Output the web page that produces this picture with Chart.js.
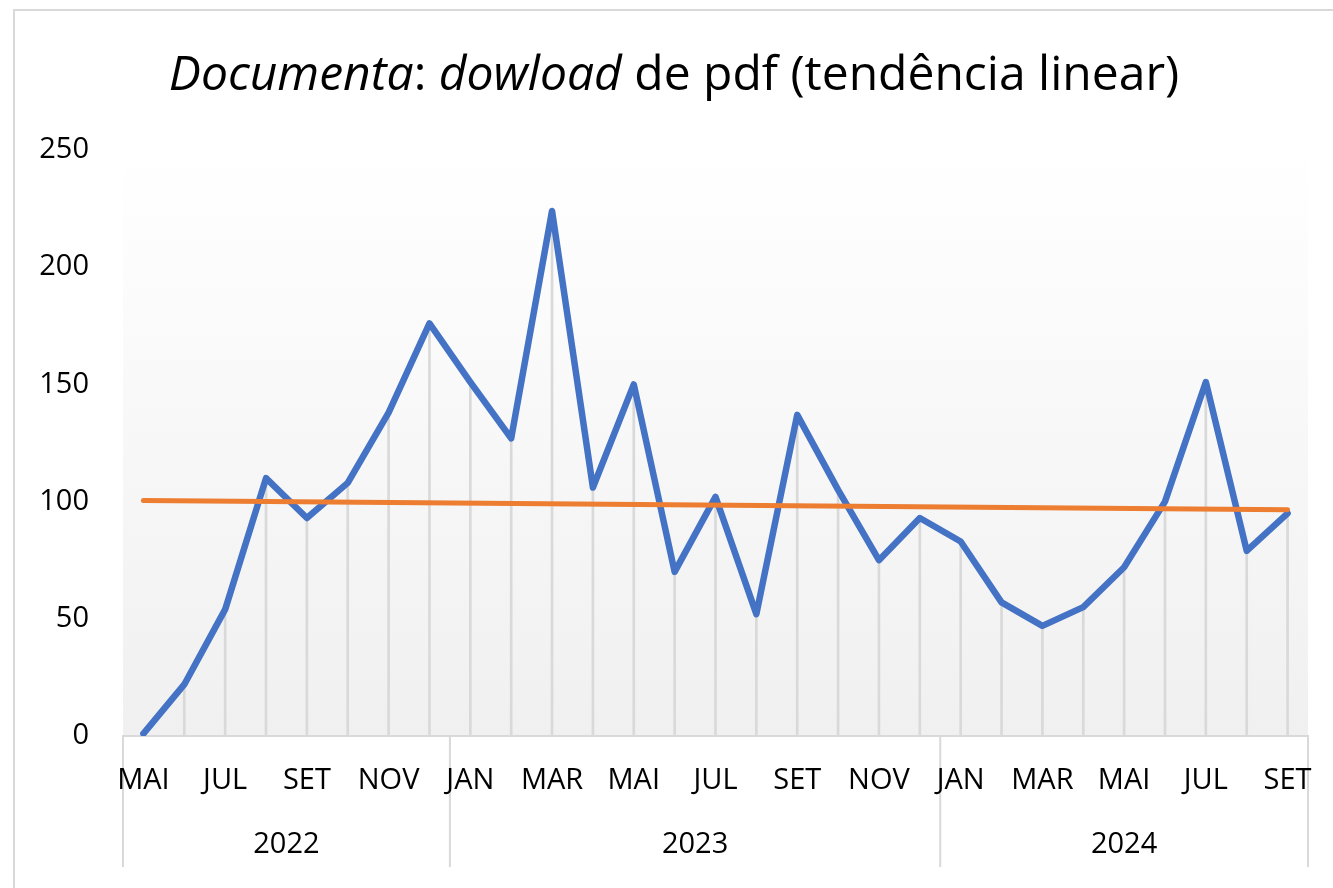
<!DOCTYPE html>
<html>
<head>
<meta charset="utf-8">
<script src="https://cdn.jsdelivr.net/npm/chart.js@4"></script>
<style>
  html, body { margin: 0; padding: 0; background: #fff; }
  #wrap { width: 1333px; height: 888px; position: relative; }
</style>
</head>
<body>
<div id="wrap"><canvas id="chart" width="1333" height="888"></canvas></div>
<script>
// categories (May 2022 .. Sep 2024)
const months = ["MAI", "JUN", "JUL", "AGO", "SET", "OUT", "NOV", "DEZ",
    "JAN", "FEV", "MAR", "ABR", "MAI", "JUN", "JUL", "AGO", "SET", "OUT", "NOV", "DEZ",
    "JAN", "FEV", "MAR", "ABR", "MAI", "JUN", "JUL", "AGO", "SET"];
const years = ["2022", "2023", "2024"];
const yearStart = [0, 8, 20];
const yearEnd = [7, 19, 28];

// downloads per month
const downloads = [1, 22, 54, 110, 93, 108, 138, 176,
    151, 127, 224, 106, 150, 70, 102, 52, 137, 105, 75, 93,
    83, 57, 47, 55, 72, 100, 151, 79, 95];

// linear trend, ends
const trendStart = 100.5;
const trendEnd = 96.5;
const trend = months.map((m, i) => i === 0 ? trendStart : (i === months.length - 1 ? trendEnd : null));

const yTicks = [0, 50, 100, 150, 200, 250];

const FONT = "'Open Sans', sans-serif";

const frameAndTitle = {
    id: "frameAndTitle",
    beforeDraw(chart) {
        const ctx = chart.ctx;
        const area = chart.chartArea;
        ctx.save();
        ctx.fillStyle = "#fff";
        ctx.fillRect(0, 0, chart.width, chart.height);
        ctx.strokeStyle = "#d9d9d9";
        ctx.lineWidth = 2;
        ctx.strokeRect(14, 10, chart.width + 20, chart.height + 20);
        // plot area gradient
        const g = ctx.createLinearGradient(0, area.top, 0, area.bottom);
        g.addColorStop(0, "#ffffff");
        g.addColorStop(1, "#f0f0f0");
        ctx.fillStyle = g;
        ctx.fillRect(area.left, area.top, area.right - area.left, area.bottom - area.top);

        // year row separators of the category axis (behind the labels)
        const xs = chart.scales.x;
        const half = (xs.getPixelForValue(1) - xs.getPixelForValue(0)) / 2;
        ctx.beginPath();
        years.forEach((y, i) => {
            const l = xs.getPixelForValue(yearStart[i]) - half;
            const r = xs.getPixelForValue(yearEnd[i]) + half;
            ctx.moveTo(l, area.bottom);
            ctx.lineTo(l, 867);
            ctx.moveTo(r, area.bottom);
            ctx.lineTo(r, 867);
        });
        ctx.stroke();
        ctx.restore();
    },
    afterDraw(chart) {
        const ctx = chart.ctx;
        const parts = [
            { t: "Documenta", it: true },
            { t: ": ", it: false },
            { t: "dowload", it: true },
            { t: " de pdf (tendência linear)", it: false }
        ];
        ctx.save();
        ctx.fillStyle = "#000";
        ctx.textBaseline = "alphabetic";
        let total = 0;
        parts.forEach(p => {
            ctx.font = (p.it ? "italic " : "") + "48px " + FONT;
            p.w = ctx.measureText(p.t).width;
            total += p.w;
        });
        let x = 674 - total / 2;
        parts.forEach(p => {
            ctx.font = (p.it ? "italic " : "") + "48px " + FONT;
            ctx.fillText(p.t, x, 90);
            x += p.w;
        });

        // year labels
        const xs = chart.scales.x;
        const half = (xs.getPixelForValue(1) - xs.getPixelForValue(0)) / 2;
        ctx.font = "29px " + FONT;
        ctx.textAlign = "center";
        ctx.textBaseline = "middle";
        years.forEach((y, i) => {
            const l = xs.getPixelForValue(yearStart[i]) - half;
            const r = xs.getPixelForValue(yearEnd[i]) + half;
            ctx.fillText(y, (l + r) / 2, 845);
        });
        ctx.restore();
    }
};

new Chart(document.getElementById("chart"), {
    data: {
        labels: months,
        datasets: [
            {
                type: "line",
                label: "Downloads",
                data: downloads,
                borderColor: "#4472C4",
                borderWidth: 6.5,
                borderCapStyle: "round",
                borderJoinStyle: "round",
                pointRadius: 0,
                tension: 0,
                order: 2
            },
            {
                type: "line",
                label: "Linear (Downloads)",
                data: trend,
                spanGaps: true,
                borderColor: "#ED7D31",
                borderWidth: 5,
                borderCapStyle: "round",
                pointRadius: 0,
                order: 1
            },
            {
                type: "bar",
                label: "drop",
                data: downloads,
                backgroundColor: "#d9d9d9",
                barThickness: 2,
                order: 3
            }
        ]
    },
    options: {
        responsive: false,
        animation: false,
        layout: { padding: { top: 150, right: 25, left: 0, bottom: 0 } },
        plugins: {
            legend: { display: false },
            tooltip: { enabled: false },
            title: { display: false }
        },
        scales: {
            x: {
                offset: true,
                grid: { display: false },
                border: { display: true, color: "#d9d9d9", width: 2 },
                ticks: {
                    autoSkip: false,
                    maxRotation: 0,
                    minRotation: 0,
                    padding: 19,
                    color: "#000",
                    font: { family: FONT, size: 29 },
                    callback: (v, i) => i % 2 === 0 ? months[i] : ""
                },
                afterFit: s => { s.height = 152; }
            },
            y: {
                min: 0,
                max: 250,
                grid: { display: false },
                border: { display: false },
                afterBuildTicks: s => { s.ticks = yTicks.map(v => ({ value: v })); },
                ticks: {
                    padding: 26,
                    color: "#000",
                    font: { family: FONT, size: 29 }
                },
                afterFit: s => { s.width = 123; }
            }
        }
    },
    plugins: [frameAndTitle]
});
</script>
</body>
</html>
